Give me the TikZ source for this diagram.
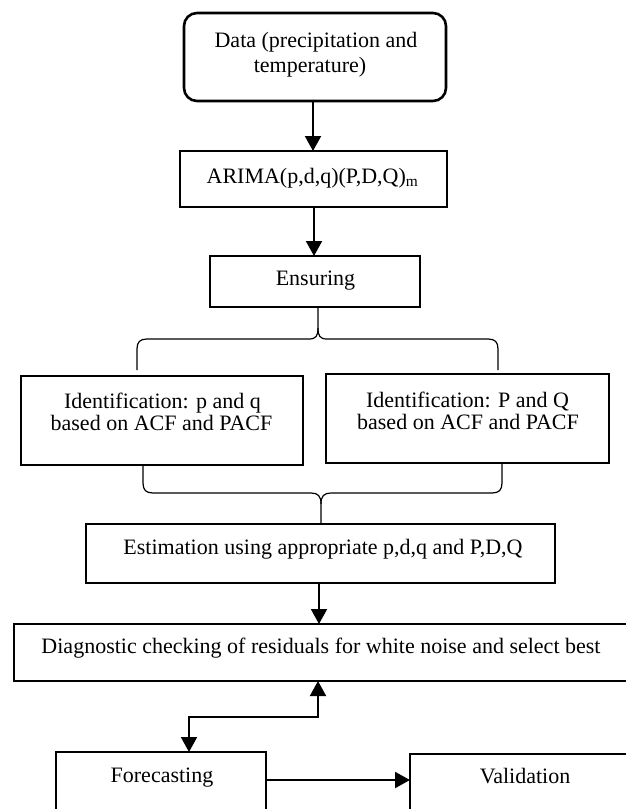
\documentclass[tikz,border=0pt]{standalone}
\usepackage{fontspec}
\setmainfont{Liberation Serif}
\usetikzlibrary{arrows.meta,calc}
\begin{document}
\begin{tikzpicture}[x=1pt,y=-1pt,
  box/.style={draw, line width=2.6pt, inner sep=0pt, outer sep=0pt},
  txt/.style={inner sep=0pt, anchor=base, font=\fontsize{22}{26}\selectfont},
  arr/.style={line width=2pt, -{Triangle[length=15pt,width=16pt]}},
  dblarr/.style={line width=2pt, {Triangle[length=15pt,width=16pt]}-{Triangle[length=15pt,width=16pt]}},
  brace/.style={line width=1.2pt}]
\useasboundingbox (0,0) rectangle (626,809);
\clip (0,0) rectangle (626,809);
% boxes
\node[box, rounded corners=13pt, minimum width=262pt, minimum height=88pt] (data) at (315,57) {};
\node[box, minimum width=267pt, minimum height=56pt] (arima) at (313.5,179) {};
\node[box, minimum width=210pt, minimum height=51pt] (ens) at (315,281.5) {};
\node[box, minimum width=282pt, minimum height=89pt] (idl) at (162,420.5) {};
\node[box, minimum width=283pt, minimum height=89pt] (idr) at (467.5,418.5) {};
\node[box, minimum width=469pt, minimum height=59pt] (est) at (320.5,553.5) {};
\node[box, minimum width=618pt, minimum height=57pt] (diag) at (323,652.5) {};
\node[box, minimum width=210pt, minimum height=78pt] (fore) at (161,791) {};
\node[box, minimum width=230pt, minimum height=76pt] (val) at (525,792) {};
% texts
\node[txt] (tdata1) at (316,47) {Data (precipitation and};
\node[txt] (tdata2) at (310,72) {temperature)};
\node[txt] (tarima) at (312.5,183) {ARIMA(p,d,q)(P,D,Q)\textsubscript{m}};
\node[txt] (tens) at (315.5,285.5) {Ensuring};
\node[txt] (til1) at (162.5,408.5) {Identification: p and q};
\node[txt] (til2) at (161.5,430.5) {based on ACF and PACF};
\node[txt] (tir1) at (467.5,407) {Identification: P and Q};
\node[txt] (tir2) at (468,429) {based on ACF and PACF};
\node[txt] (test) at (323,554) {Estimation using appropriate p,d,q and P,D,Q};
\node[txt] (tdiag) at (321,653) {Diagnostic checking of residuals for white noise and select best};
\node[txt] (tfore) at (162,782) {Forecasting};
\node[txt] (tval) at (525,783) {Validation};
% columns / rows
\coordinate (c1) at (313,0);
\coordinate (c2) at (314,0);
\coordinate (ex) at (319,0);
\coordinate (ud) at (318,717);
\coordinate (fx) at (189,0);
\coordinate (fvy) at (0,780);
% arrows
\draw[arr] (data.south -| c1) -- (arima.north -| c1);
\draw[arr] (arima.south -| c2) -- (ens.north -| c2);
\draw[arr] (est.south -| ex) -- (diag.north -| ex);
\draw[dblarr] (diag.south -| ud) -- (ud) -| (fore.north -| fx);
\draw[arr] (fore.east |- fvy) -- (val.west |- fvy);
% top brace
\coordinate (tbc) at (318,0);
\coordinate (tbL) at (137,370);
\coordinate (tbR) at (498,370);
\draw[brace] (ens.south -| tbc) -- (318,328)
  .. controls (318,336) and (316,339) .. (309,339) -- (147,339)
  .. controls (140,339) and (137,342) .. (137,349) -- (tbL);
\draw[brace] (318,328)
  .. controls (318,336) and (320,339) .. (327,339) -- (488,339)
  .. controls (495,339) and (498,342) .. (498,349) -- (tbR);
% bottom brace
\coordinate (bbl) at (143,0);
\coordinate (bbr) at (502,0);
\coordinate (bbc) at (321,0);
\draw[brace] (idl.south -| bbl) -- (143,483)
  .. controls (143,490) and (146,493) .. (153,493) -- (311,493)
  .. controls (318,493) and (321,496) .. (321,504) -- (est.north -| bbc);
\draw[brace] (idr.south -| bbr) -- (502,483)
  .. controls (502,490) and (499,493) .. (492,493) -- (331,493)
  .. controls (324,493) and (321,496) .. (321,504);
\end{tikzpicture}
\end{document}
